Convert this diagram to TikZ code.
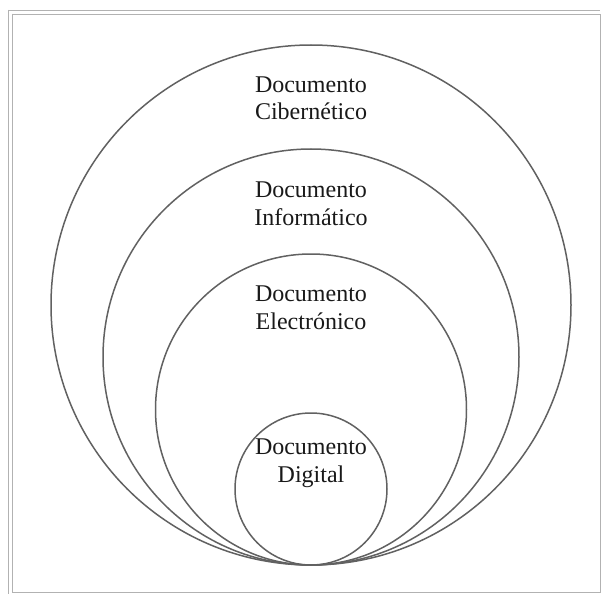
\documentclass[tikz,border=0pt]{standalone}
\usepackage{fontspec}
\setmainfont{Liberation Serif}
\begin{document}
\begin{tikzpicture}[x=1pt,y=-1pt,
  ring/.style={draw=black!62,line width=1.5pt},
  lbl/.style={align=center,anchor=base,font=\fontsize{24}{28}\selectfont,text=black!90,inner sep=0pt},
  framel/.style={draw=black!30,line width=0.9pt}]
\useasboundingbox (0,0) rectangle (606,594);
\fill[white] (0,0) rectangle (606,594);
\draw[framel] (8,10) -- (600,10);
\draw[framel] (8,10) -- (8,594);
\draw[framel] (12,14) -- (600,14);
\draw[framel] (12,14) -- (12,592) -- (600,592) -- (600,14);
\node[ring,circle,minimum size=520pt,inner sep=0pt] (c1) at (311,305) {};
\node[ring,circle,minimum size=416pt,inner sep=0pt] (c2) at (311,357) {};
\node[ring,circle,minimum size=311pt,inner sep=0pt] (c3) at (311,409.5) {};
\node[ring,circle,minimum size=152pt,inner sep=0pt] (c4) at (311,489) {};
\node[lbl] (t1) at (311,120) {Documento\\Cibernético};
\node[lbl] (t2) at (311,225) {Documento\\Informático};
\node[lbl] (t3) at (311,329) {Documento\\Electrónico};
\node[lbl] (t4) at (311,482) {Documento\\Digital};
\end{tikzpicture}
\end{document}
